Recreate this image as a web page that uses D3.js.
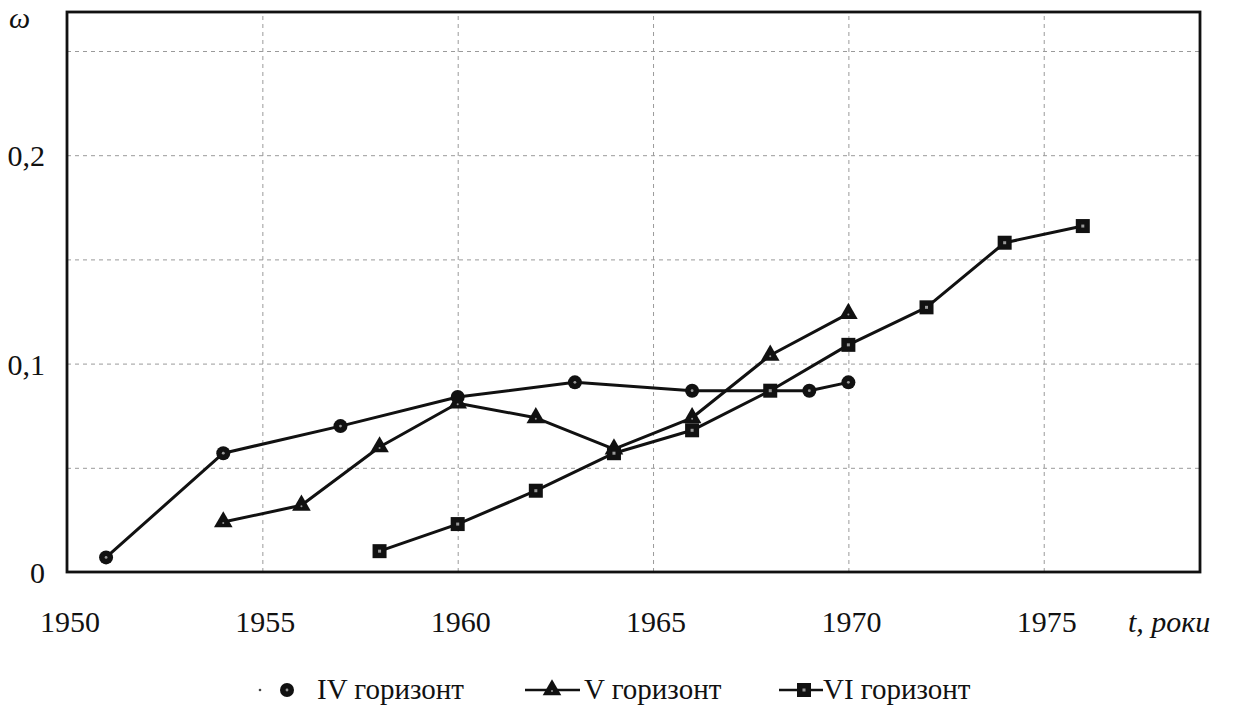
<!DOCTYPE html>
<html>
<head>
<meta charset="utf-8">
<script src="https://cdn.jsdelivr.net/npm/d3@7"></script>
</head>
<body style="margin:0;padding:0;background:#fff">
<div id="wrap" style="position:relative;width:1239px;height:710px;font-family:'Liberation Serif','Times New Roman',serif;color:#111">
<svg id="fig" width="1239" height="710" style="position:absolute;left:0;top:0"></svg>
</div>
<script>
// ---- data ----
const seriesNames = ["IV горизонт", "V горизонт", "VI горизонт"];
const yearsIV = [1951, 1954, 1957, 1960, 1963, 1966, 1969, 1970];
const valuesIV = [0.007, 0.057, 0.070, 0.084, 0.091, 0.087, 0.087, 0.091];
const yearsV = [1954, 1956, 1958, 1960, 1962, 1964, 1966, 1968, 1970];
const valuesV = [0.024, 0.032, 0.060, 0.081, 0.074, 0.059, 0.074, 0.104, 0.124];
const yearsVI = [1958, 1960, 1962, 1964, 1966, 1968, 1970, 1972, 1974, 1976];
const valuesVI = [0.010, 0.023, 0.039, 0.057, 0.068, 0.087, 0.109, 0.127, 0.158, 0.166];
const xTicks = [1950, 1955, 1960, 1965, 1970, 1975];
const xTickLabels = ["1950", "1955", "1960", "1965", "1970", "1975"];
const xGrid = [1955, 1960, 1965, 1970, 1975];
const yTicks = [0, 0.1, 0.2];
const yTickLabels = ["0", "0,1", "0,2"];
const yGrid = [0.05, 0.1, 0.15, 0.2, 0.25];
const yAxisTitle = "ω";
const xAxisTitle = "t, роки";

// ---- layout ----
const L = 67, R = 1200, T = 12, B = 572;
const wrap = d3.select("#wrap");
const svg = d3.select("#fig");
const x = d3.scaleLinear().domain([1950, 1979]).range([L, R]);
const y = d3.scaleLinear().domain([0, 0.25]).range([B, 51]);

// HTML text label helper (cx, cy = anchor point; ax: 0 left, 0.5 centre, 1 right)
function label(px, py, txt, size, ax, italic) {
  wrap.append("div")
    .style("position", "absolute")
    .style("left", px + "px").style("top", py + "px")
    .style("font-size", size + "px").style("line-height", "1")
    .style("white-space", "nowrap")
    .style("font-family", "'Liberation Serif','Times New Roman',serif")
    .style("font-style", italic ? "italic" : "normal")
    .style("transform", `translate(${-ax * 100}%, -50%)`)
    .text(txt);
}

// grid lines
const gx = svg.append("g").attr("transform", `translate(0,${B})`)
  .call(d3.axisBottom(x).tickValues(xGrid).tickSize(-(B - T)).tickFormat(""));
gx.select(".domain").remove();
gx.selectAll("line").attr("stroke", "#9a9a9a").attr("stroke-width", 1).attr("stroke-dasharray", "4,4");

const gy = svg.append("g").attr("transform", `translate(${L},0)`)
  .call(d3.axisLeft(y).tickValues(yGrid).tickSize(-(R - L)).tickFormat(""));
gy.select(".domain").remove();
gy.selectAll("line").attr("stroke", "#9a9a9a").attr("stroke-width", 1).attr("stroke-dasharray", "4,4");

// frame
svg.append("rect").attr("x", L).attr("y", T).attr("width", R - L).attr("height", B - T)
  .attr("fill", "none").attr("stroke", "#111").attr("stroke-width", 2.8);

// tick labels
xTicks.forEach((d, i) => label(x(d) + 3, B + 50, xTickLabels[i], 30, 0.5, false));
yTicks.forEach((d, i) => label(45, y(d) + 1, yTickLabels[i], 30, 1, false));
label(9, 18, yAxisTitle, 30, 0, true);
label(1128, 622, xAxisTitle, 30, 0, true);

// series
const series = [
  { name: seriesNames[0], years: yearsIV, values: valuesIV, shape: "circle" },
  { name: seriesNames[1], years: yearsV, values: valuesV, shape: "triangle" },
  { name: seriesNames[2], years: yearsVI, values: valuesVI, shape: "square" }
];

const line = d3.line().x(d => x(d[0])).y(d => y(d[1]));

function drawMarker(g, shape, cx, cy) {
  if (shape === "circle") {
    g.append("circle").attr("cx", cx).attr("cy", cy).attr("r", 7).attr("fill", "#111");
    g.append("circle").attr("cx", cx).attr("cy", cy).attr("r", 1.4).attr("fill", "#999");
  } else if (shape === "square") {
    g.append("rect").attr("x", cx - 7).attr("y", cy - 7).attr("width", 14).attr("height", 14).attr("fill", "#111");
    g.append("rect").attr("x", cx - 1.5).attr("y", cy - 1.5).attr("width", 3).attr("height", 3).attr("fill", "#999");
  } else {
    const s = d3.symbol().type(d3.symbolTriangle).size(150);
    g.append("path").attr("d", s()).attr("transform", `translate(${cx},${cy})`).attr("fill", "#111");
    g.append("circle").attr("cx", cx).attr("cy", cy + 1).attr("r", 1).attr("fill", "#999");
  }
}

series.forEach(s => {
  const pts = s.years.map((yr, i) => [yr, s.values[i]]);
  svg.append("path").datum(pts).attr("d", line)
    .attr("fill", "none").attr("stroke", "#111").attr("stroke-width", 3).attr("stroke-linejoin", "round");
  const g = svg.append("g");
  pts.forEach(p => drawMarker(g, s.shape, x(p[0]), y(p[1])));
});

// legend
const legY = 690;
const leg = svg.append("g");
leg.append("circle").attr("cx", 260).attr("cy", legY).attr("r", 1.3).attr("fill", "#444");
drawMarker(leg, "circle", 287, legY);
label(317, legY - 1, seriesNames[0], 29, 0, false);
leg.append("line").attr("x1", 525).attr("x2", 580).attr("y1", legY).attr("y2", legY).attr("stroke", "#111").attr("stroke-width", 2.4);
drawMarker(leg, "triangle", 552, legY);
label(584, legY - 1, seriesNames[1], 29, 0, false);
leg.append("line").attr("x1", 779).attr("x2", 823).attr("y1", legY).attr("y2", legY).attr("stroke", "#111").attr("stroke-width", 2.4);
drawMarker(leg, "square", 804, legY);
label(823, legY - 1, seriesNames[2], 29, 0, false);
</script>
</body>
</html>
